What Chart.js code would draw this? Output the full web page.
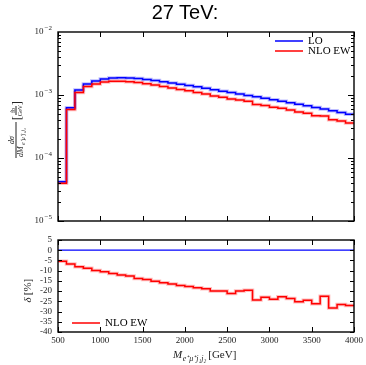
<!DOCTYPE html>
<html>
<head>
<meta charset="utf-8">
<script src="https://cdn.jsdelivr.net/npm/chart.js@4.4.0/dist/chart.umd.min.js"></script>
<style>
  body { margin: 0; background: #fff; width: 366px; height: 365px; position: relative; overflow: hidden; }
  #title { position: absolute; top: 1px; left: 0; width: 370px; text-align: center; font: 20px "Liberation Sans", Arial, sans-serif; color: #000; }
  #top { position: absolute; left: 0; top: 0; }
  #bot { position: absolute; left: 0; top: 230px; }
</style>
</head>
<body>
<canvas id="top" width="366" height="230"></canvas>
<canvas id="bot" width="366" height="135"></canvas>
<div id="title">27 TeV:</div>
<script>
// bin edges in GeV (35 bins of 100 GeV)
const binEdges = [500, 600, 700, 800, 900, 1000, 1100, 1200, 1300, 1400, 1500, 1600, 1700, 1800,
  1900, 2000, 2100, 2200, 2300, 2400, 2500, 2600, 2700, 2800, 2900, 3000, 3100, 3200, 3300,
  3400, 3500, 3600, 3700, 3800, 3900, 4000];

// dsigma/dM [fb/GeV]
const lo = [4.2e-5, 6.3e-4, 1.20e-3, 1.50e-3, 1.67e-3, 1.80e-3, 1.86e-3, 1.88e-3, 1.86e-3, 1.83e-3,
  1.76e-3, 1.70e-3, 1.63e-3, 1.55e-3, 1.48e-3, 1.42e-3, 1.35e-3, 1.28e-3, 1.21e-3, 1.15e-3,
  1.10e-3, 1.04e-3, 9.86e-4, 9.36e-4, 8.87e-4, 8.42e-4, 7.97e-4, 7.55e-4, 7.15e-4, 6.77e-4,
  6.35e-4, 5.98e-4, 5.62e-4, 5.26e-4, 4.95e-4];
const nloEw = [3.97e-5, 5.87e-4, 1.10e-3, 1.37e-3, 1.50e-3, 1.61e-3, 1.65e-3, 1.65e-3, 1.63e-3, 1.58e-3,
  1.51e-3, 1.44e-3, 1.37e-3, 1.29e-3, 1.22e-3, 1.17e-3, 1.10e-3, 1.04e-3, 9.68e-4, 9.20e-4,
  8.67e-4, 8.32e-4, 7.93e-4, 7.09e-4, 6.83e-4, 6.40e-4, 6.15e-4, 5.77e-4, 5.35e-4, 5.11e-4,
  4.69e-4, 4.63e-4, 4.03e-4, 3.87e-4, 3.61e-4];

// relative correction delta [%]
const deltaLo = [0, 0, 0, 0, 0, 0, 0, 0, 0, 0, 0, 0, 0, 0, 0, 0, 0, 0, 0, 0, 0, 0, 0, 0, 0, 0, 0, 0, 0, 0, 0, 0, 0, 0, 0];
const deltaNlo = [-5.4, -6.8, -8.1, -8.8, -9.9, -10.5, -11.4, -12.1, -12.6, -13.8,
  -14.3, -15.2, -15.9, -16.5, -17.3, -17.8, -18.3, -18.8, -20.0, -20.0,
  -21.2, -20.0, -19.6, -24.3, -23.0, -24.0, -22.8, -23.6, -25.2, -24.5,
  -26.2, -22.5, -28.3, -26.5, -27.0];

const xTicks = [500, 1000, 1500, 2000, 2500, 3000, 3500, 4000];
const yTicksTop = [1e-5, 1e-4, 1e-3, 1e-2];
const yTicksBot = [5, 0, -5, -10, -15, -20, -25, -30, -35, -40];

const BLUE = '#0000ff';
const RED = '#ff0000';
const SERIF = '"Liberation Serif", "Times New Roman", serif';

function steps(vals) {
  const pts = vals.map((v, i) => ({ x: binEdges[i], y: v }));
  pts.push({ x: binEdges[binEdges.length - 1], y: vals[vals.length - 1] });
  return pts;
}

function line(data, color, width, order) {
  return {
    data: steps(data), borderColor: color, borderWidth: width, stepped: 'before',
    pointRadius: 0, fill: false, order: order
  };
}

function tickX(ctx, a, x, len) {
  xTicks.forEach(v => {
    const px = Math.round(x.getPixelForValue(v)) + 0.5;
    ctx.moveTo(px, a.bottom); ctx.lineTo(px, a.bottom - len);
    ctx.moveTo(px, a.top); ctx.lineTo(px, a.top + len);
  });
}

function tickY(ctx, a, py, len) {
  py = Math.round(py) + 0.5;
  ctx.moveTo(a.left, py); ctx.lineTo(a.left + len, py);
  ctx.moveTo(a.right, py); ctx.lineTo(a.right - len, py);
}

function drawPow(ctx, exp, xRight, yMid) {
  ctx.font = '9px ' + SERIF;
  const w1 = ctx.measureText('10').width;
  const e = '\u2212' + Math.abs(exp);
  ctx.font = '7px ' + SERIF;
  const w2 = ctx.measureText(e).width;
  const x0 = xRight - w1 - w2 - 1;
  ctx.textAlign = 'left';
  ctx.textBaseline = 'middle';
  ctx.font = '9px ' + SERIF;
  ctx.fillText('10', x0, yMid);
  ctx.font = '7px ' + SERIF;
  ctx.fillText(e, x0 + w1 + 1, yMid - 3.5);
}

function legendLine(ctx, x, y, color, label) {
  ctx.strokeStyle = color;
  ctx.lineWidth = 1.5;
  ctx.beginPath(); ctx.moveTo(x, y); ctx.lineTo(x + 28, y); ctx.stroke();
  ctx.fillStyle = '#000';
  ctx.font = '11px ' + SERIF;
  ctx.textAlign = 'left';
  ctx.textBaseline = 'middle';
  ctx.fillText(label, x + 33, y + 0.5);
}

const topDeco = {
  id: 'topDeco',
  afterDraw(chart) {
    const { ctx, chartArea: a, scales: { x, y } } = chart;
    ctx.save();
    ctx.strokeStyle = '#000';
    ctx.lineWidth = 1;
    ctx.beginPath();
    tickX(ctx, a, x, 5);
    for (let d = -5; d < -2; d++) {
      for (let m = 1; m < 10; m++) {
        tickY(ctx, a, y.getPixelForValue(m * Math.pow(10, d)), m === 1 ? 6 : 3);
      }
    }
    ctx.stroke();
    ctx.lineWidth = 1.4;
    ctx.strokeRect(a.left, a.top, a.width, a.height);

    ctx.fillStyle = '#222';
    yTicksTop.forEach(v => drawPow(ctx, Math.round(Math.log10(v)), a.left - 6, y.getPixelForValue(v)));

    legendLine(ctx, 275, 41, BLUE, 'LO');
    legendLine(ctx, 275, 51, RED, 'NLO EW');

    // y title: dσ/dM [fb/GeV], rotated
    ctx.translate(16, 140);
    ctx.rotate(-Math.PI / 2);
    ctx.fillStyle = '#222';
    ctx.strokeStyle = '#222';
    ctx.lineWidth = 1;
    ctx.beginPath(); ctx.moveTo(-18, 0); ctx.lineTo(18, 0); ctx.stroke();
    ctx.textBaseline = 'alphabetic';
    ctx.textAlign = 'center';
    ctx.font = 'italic 8px ' + SERIF;
    ctx.fillText('d\u03c3', 0, -2);
    ctx.textAlign = 'left';
    ctx.fillText('dM', -17, 7);
    ctx.font = 'italic 6px ' + SERIF;
    ctx.fillText('e\u207a\u03bc\u207aj\u2081j\u2082', -5, 9);
    // [fb/GeV]
    ctx.font = '13px ' + SERIF;
    ctx.textAlign = 'center';
    ctx.fillText('[', 22, 5);
    ctx.fillText(']', 37, 5);
    ctx.beginPath(); ctx.moveTo(25, 0); ctx.lineTo(34, 0); ctx.stroke();
    ctx.font = '6px ' + SERIF;
    ctx.fillText('fb', 29.5, -1.5);
    ctx.fillText('GeV', 29.5, 6);
    ctx.restore();
  }
};

// bottom canvas sits 230px down the page
const botDeco = {
  id: 'botDeco',
  afterDraw(chart) {
    const { ctx, chartArea: a, scales: { x, y } } = chart;
    ctx.save();
    ctx.strokeStyle = '#000';
    ctx.lineWidth = 1;
    ctx.beginPath();
    tickX(ctx, a, x, 5);
    yTicksBot.forEach(v => tickY(ctx, a, y.getPixelForValue(v), 4));
    ctx.stroke();
    ctx.lineWidth = 1.4;
    ctx.strokeRect(a.left, a.top, a.width, a.height);

    ctx.fillStyle = '#222';
    ctx.font = '9px ' + SERIF;
    ctx.textBaseline = 'middle';
    ctx.textAlign = 'right';
    yTicksBot.forEach(v => ctx.fillText(String(v), a.left - 6, y.getPixelForValue(v)));
    ctx.textAlign = 'center';
    xTicks.forEach(v => ctx.fillText(String(v), x.getPixelForValue(v), a.bottom + 9));

    legendLine(ctx, 72, 93, RED, 'NLO EW');

    // x title
    ctx.textBaseline = 'alphabetic';
    ctx.textAlign = 'left';
    ctx.fillStyle = '#222';
    ctx.font = 'italic 11px ' + SERIF;
    ctx.fillText('M', 173, 128);
    let cx = 173 + ctx.measureText('M').width + 0.5;
    ctx.font = 'italic 8px ' + SERIF;
    const sub = 'e\u207a\u03bc\u207aj\u2081j\u2082';
    ctx.fillText(sub, cx, 131);
    cx += ctx.measureText(sub).width + 2;
    ctx.font = '11px ' + SERIF;
    ctx.fillText('[GeV]', cx, 128);

    // y title
    ctx.translate(31, 62);
    ctx.rotate(-Math.PI / 2);
    ctx.textAlign = 'center';
    ctx.font = 'italic 11px ' + SERIF;
    ctx.fillText('\u03b4', -8, 0);
    ctx.font = '11px ' + SERIF;
    ctx.fillText('[%]', 5, 0);
    ctx.restore();
  }
};

new Chart(document.getElementById('top'), {
  type: 'line',
  data: {
    datasets: [
      line(nloEw, RED, 1.5, 0),
      line(lo, BLUE, 1.5, 1),
      line(nloEw, 'rgba(255,0,0,0.25)', 3.5, 2),
      line(lo, 'rgba(0,0,255,0.25)', 3.5, 3)
    ]
  },
  options: {
    responsive: false,
    animation: false,
    layout: { padding: { left: 58, right: 12, top: 32, bottom: 9 } },
    plugins: { legend: { display: false }, tooltip: { enabled: false } },
    scales: {
      x: { type: 'linear', min: 500, max: 4000, display: false },
      y: { type: 'logarithmic', min: 1e-5, max: 1e-2, display: false }
    }
  },
  plugins: [topDeco]
});

new Chart(document.getElementById('bot'), {
  type: 'line',
  data: {
    datasets: [
      line(deltaNlo, RED, 1.5, 0),
      line(deltaLo, BLUE, 1.2, 1),
      line(deltaNlo, 'rgba(255,0,0,0.25)', 3.5, 2)
    ]
  },
  options: {
    responsive: false,
    animation: false,
    layout: { padding: { left: 58, right: 12, top: 10, bottom: 33 } },
    plugins: { legend: { display: false }, tooltip: { enabled: false } },
    scales: {
      x: { type: 'linear', min: 500, max: 4000, display: false },
      y: { type: 'linear', min: -40, max: 5, display: false }
    }
  },
  plugins: [botDeco]
});
</script>
</body>
</html>
